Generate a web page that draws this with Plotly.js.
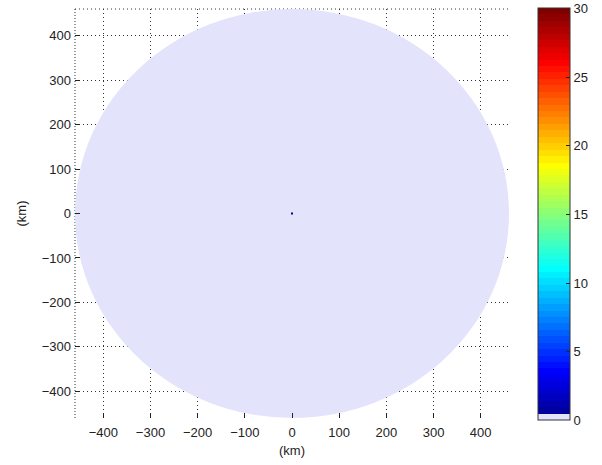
<!DOCTYPE html>
<html>
<head>
<meta charset="utf-8">
<script src="https://cdn.plot.ly/plotly-3.0.1.min.js"></script>
<style>html,body{margin:0;padding:0;background:#fff;}#chart{width:602px;height:465px;}</style>
</head>
<body>
<div id="chart"></div>
<script>
// ---- data ----
var rangeKm = 460;                 // radar coverage radius (km)
var tickVals = [-400, -300, -200, -100, 0, 100, 200, 300, 400];
var cbTicks = [0, 5, 10, 15, 20, 25, 30];
var echoX = [0];                   // isolated echo pixel (km)
var echoY = [0];
var echoVal = [0.6];               // value (colour scale units)
var cMin = 0, cMax = 30;

// ---- MATLAB-style jet(64) colormap, first entry replaced by the background lavender ----
var lavender = 'rgb(227,227,252)';
function jet(n) {
  var m = Math.ceil(n / 4);
  var u = [];
  for (var i = 1; i <= m; i++) u.push(i / m);
  for (var i = 1; i <= m - 1; i++) u.push(1);
  for (var i = m; i >= 1; i--) u.push(i / m);
  var off = Math.ceil(m / 2) - ((n % 4) === 1 ? 1 : 0);
  var J = [];
  for (var i = 0; i < n; i++) J.push([0, 0, 0]);
  for (var k = 0; k < u.length; k++) {
    var g = off + k + 1, r = g + m, b = g - m;
    if (r >= 1 && r <= n) J[r - 1][0] = u[k];
    if (g >= 1 && g <= n) J[g - 1][1] = u[k];
    if (b >= 1 && b <= n) J[b - 1][2] = u[k];
  }
  return J.map(function (c) {
    return 'rgb(' + Math.round(c[0] * 255) + ',' + Math.round(c[1] * 255) + ',' + Math.round(c[2] * 255) + ')';
  });
}
var cols = jet(64);
cols[0] = lavender;
var cscale = [];
for (var i = 0; i < cols.length; i++) {
  cscale.push([i / cols.length, cols[i]]);
  cscale.push([(i + 1) / cols.length, cols[i]]);
}

var font = {family: 'Liberation Sans, Arial, sans-serif', size: 13, color: '#222222'};
var titleFont = {family: 'Liberation Sans, Arial, sans-serif', size: 13, color: '#222222'};

var trace = {
  type: 'scatter', mode: 'markers',
  x: echoX, y: echoY,
  marker: {
    symbol: 'square', size: 2, color: echoVal,
    colorscale: cscale, cmin: cMin, cmax: cMax, showscale: true,
    colorbar: {
      x: 1.066, xanchor: 'left', xpad: 0,
      y: 0.4976, yanchor: 'middle', ypad: 0,
      thickness: 32, thicknessmode: 'pixels',
      len: 412, lenmode: 'pixels',
      outlinecolor: '#333', outlinewidth: 1,
      tickvals: cbTicks, ticks: 'inside', ticklen: 4, tickcolor: '#222',
      tickfont: font
    }
  },
  hoverinfo: 'skip', showlegend: false
};

var axisCommon = {
  range: [-rangeKm, rangeKm], tickvals: tickVals,
  showgrid: true, gridcolor: '#333', griddash: '1px,3px', gridwidth: 1,
  zeroline: false, showline: false,
  ticks: 'inside', ticklen: 5, tickcolor: '#222', tickwidth: 1,
  tickfont: font, fixedrange: true
};

var layout = {
  width: 602, height: 465,
  margin: {l: 75, r: 90, t: 9, b: 47},
  paper_bgcolor: '#fff', plot_bgcolor: '#fff',
  font: font,
  xaxis: Object.assign({}, axisCommon, {title: {text: '(km)', font: titleFont, standoff: 6}, ticklabelstandoff: 5}),
  yaxis: Object.assign({}, axisCommon, {title: {text: '(km)', font: titleFont, standoff: 12}, ticklabelstandoff: 3}),
  shapes: [
    {type: 'line', xref: 'paper', yref: 'paper', x0: 0, x1: 0, y0: 0, y1: 1, layer: 'between',
     line: {color: '#333', width: 1, dash: '1px,2px'}},
    {type: 'line', xref: 'paper', yref: 'paper', x0: 0, x1: 1, y0: 1, y1: 1, layer: 'between',
     line: {color: '#333', width: 1, dash: '1px,3px'}},
    {type: 'circle', xref: 'x', yref: 'y', x0: -rangeKm, x1: rangeKm, y0: -rangeKm, y1: rangeKm,
     layer: 'between', fillcolor: lavender, line: {width: 0}}
  ]
};

Plotly.newPlot('chart', [trace], layout, {staticPlot: true, displayModeBar: false});
</script>
</body>
</html>
